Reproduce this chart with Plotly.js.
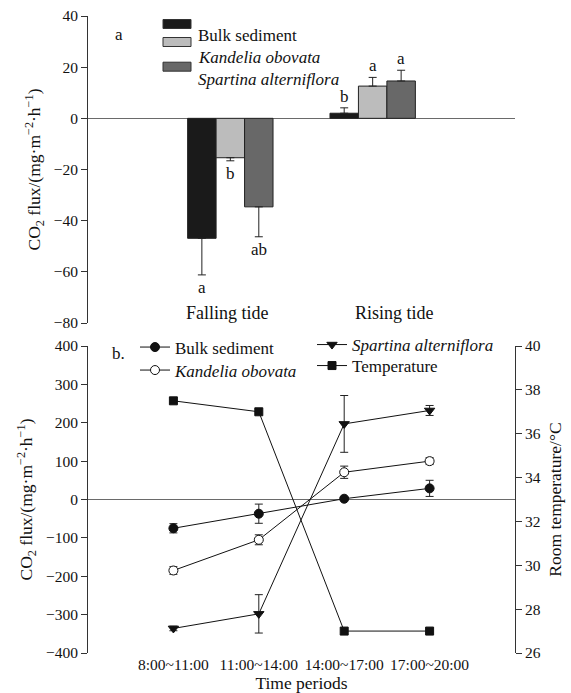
<!DOCTYPE html>
<html>
<head>
<meta charset="utf-8">
<script src="https://cdn.plot.ly/plotly-3.0.1.min.js"></script>
<style>html,body{margin:0;padding:0;background:#fff;}#chart{width:571px;height:693px;}</style>
</head>
<body>
<div id="chart"></div>
<script>
// ---- Panel a data ----
var tideCats = ["Falling tide", "Rising tide"];
var bulkFlux = [-46.9, 2.0];
var bulkErr = [14.3, 2.1];
var kandFlux = [-15.4, 12.6];
var kandErr = [1.2, 3.4];
var spartFlux = [-34.6, 14.6];
var spartErr = [11.7, 4.2];
var bulkLetters = ["a", "b"];
var kandLetters = ["b", "a"];
var spartLetters = ["ab", "a"];
var seriesNames = ["Bulk sediment", "<i>Kandelia obovata</i>", "<i>Spartina alterniflora</i>"];
var barColors = ["#1a1a1a", "#bcbcbc", "#686868"];

// ---- Panel b data ----
var periods = ["8:00~11:00", "11:00~14:00", "14:00~17:00", "17:00~20:00"];
var bulkT = [-75, -37, 2, 29];
var bulkTErr = [12, 25, 3, 21];
var kandT = [-185, -105, 71, 100];
var kandTErr = [10, 13, 16, 9];
var spartT = [-336, -298, 197, 232];
var spartTErr = [6, 50, 74, 13];
var tempT = [37.5, 37.0, 27.0, 27.0];

var FONT = "Liberation Serif";
var W = 571, H = 693, ML = 88, MR = 56, MT = 16, MB = 40;
var PW = W - ML - MR, PH = H - MT - MB;
function px(x) { return (x - ML) / PW; }
function py(y) { return (H - MB - y) / PH; }

var domTop = [py(323), 1];
var domBot = [0, py(346)];
var topRange = [-80, 40];
var botRange = [-400, 400];
var zeroTop = domTop[0] + (0 - topRange[0]) / (topRange[1] - topRange[0]) * (domTop[1] - domTop[0]);
var zeroBot = domBot[0] + (0 - botRange[0]) / (botRange[1] - botRange[0]) * (domBot[1] - domBot[0]);

var errStyle = {type: "data", visible: true, color: "#222", thickness: 1, width: 4};

function barTrace(vals, errs, i) {
  // error bars drawn outward only (as in the reference)
  var up = vals.map(function (v, k) { return v >= 0 ? errs[k] : 0; });
  var down = vals.map(function (v, k) { return v < 0 ? errs[k] : 0; });
  return {
    type: "bar", x: tideCats, y: vals, name: seriesNames[i], showlegend: false,
    xaxis: "x", yaxis: "y",
    marker: {color: barColors[i], line: {color: "#222", width: 1}},
    error_y: Object.assign({symmetric: false, array: up, arrayminus: down}, errStyle)
  };
}

var traces = [
  barTrace(bulkFlux, bulkErr, 0),
  barTrace(kandFlux, kandErr, 1),
  barTrace(spartFlux, spartErr, 2)
];

function lineTrace(vals, errs, name, symbol, fill, legend) {
  var t = {
    type: "scatter", mode: "lines+markers", x: periods, y: vals, name: name,
    xaxis: "x2", yaxis: "y2", legend: legend,
    line: {color: "#111", width: 1},
    marker: {symbol: symbol, size: 9, color: fill, line: {color: "#111", width: 1}}
  };
  if (errs) t.error_y = Object.assign({array: errs}, errStyle);
  return t;
}
traces.push(lineTrace(bulkT, bulkTErr, "Bulk sediment", "circle", "#111", "legend"));
traces.push(lineTrace(kandT, kandTErr, "<i>Kandelia obovata</i>", "circle", "#fff", "legend2"));
traces.push(lineTrace(spartT, spartTErr, "<i>Spartina alterniflora</i>", "triangle-down", "#111", "legend3"));
var tt = lineTrace(tempT, null, "Temperature", "square", "#111", "legend4");
tt.yaxis = "y3"; tt.marker.size = 8;
traces.push(tt);

// letters over / under bars
var annotations = [];
var letterSets = [bulkLetters, kandLetters, spartLetters];
var valSets = [bulkFlux, kandFlux, spartFlux];
var errSets = [bulkErr, kandErr, spartErr];
var offsets = [-0.2, 0, 0.2];
for (var s = 0; s < 3; s++) {
  for (var c = 0; c < tideCats.length; c++) {
    var v = valSets[s][c], e = errSets[s][c];
    var neg = v < 0;
    annotations.push({
      xref: "x", yref: "y", x: c + offsets[s], y: neg ? v - e : v + e,
      text: letterSets[s][c], showarrow: false,
      yanchor: neg ? "top" : "bottom", yshift: neg ? -1 : 0,
      font: {family: FONT, size: 17, color: "#111"}
    });
  }
}
// category labels for panel a
var catLabelX = [-0.02, 1.15];
for (var c = 0; c < tideCats.length; c++) {
  annotations.push({xref: "x", yref: "y", x: catLabelX[c], y: -76, text: tideCats[c],
    showarrow: false, font: {family: FONT, size: 18, color: "#111"}});
}
// panel letters
annotations.push({xref: "paper", yref: "paper", x: px(113), y: py(23), text: "a", showarrow: false,
  font: {family: FONT, size: 17, color: "#111"}});
annotations.push({xref: "paper", yref: "paper", x: px(110), y: py(354), xanchor: "left", text: "b.", showarrow: false,
  font: {family: FONT, size: 17, color: "#111"}});

// manual legend for panel a (wide swatches)
var shapes = [];
var legRectY = [24, 42, 66.7];
var legTextY = [24, 46, 68];
for (var i = 0; i < 3; i++) {
  shapes.push({type: "rect", xref: "paper", yref: "paper",
    x0: px(163), x1: px(191), y0: py(legRectY[i] + 4.5), y1: py(legRectY[i] - 4.5),
    fillcolor: barColors[i], line: {color: "#333", width: 1}});
  annotations.push({xref: "paper", yref: "paper", x: px(196), y: py(legTextY[i]), xanchor: "left",
    text: seriesNames[i], showarrow: false, font: {family: FONT, size: 17, color: "#111"}});
}

var axisFont = {family: FONT, size: 15.5, color: "#111"};
var titleFont = {family: FONT, size: 17.5, color: "#111"};
function leg(xp, yp) {
  return {x: px(xp), y: py(yp), xanchor: "left", yanchor: "top", bgcolor: "rgba(0,0,0,0)",
    font: {family: FONT, size: 17, color: "#111"}, tracegroupgap: 0, itemwidth: 30};
}
var layout = {
  width: W, height: H,
  margin: {l: ML, r: MR, t: MT, b: MB},
  paper_bgcolor: "#fff", plot_bgcolor: "rgba(0,0,0,0)",
  font: {family: FONT, size: 16, color: "#111"},
  barmode: "group", bargap: 0.4, bargroupgap: 0,
  xaxis: {domain: [0, 1], anchor: "y", type: "category", range: [-1, 2],
    showline: false, ticks: "", showticklabels: false, showgrid: false, zeroline: false},
  xaxis3: {overlaying: "x", anchor: "free", position: zeroTop, type: "linear", range: [-1, 2],
    tickvals: [0, 1], ticks: "inside", ticklen: 4, tickcolor: "#444", showticklabels: false,
    showline: false, showgrid: false, zeroline: false},
  yaxis: {domain: domTop, anchor: "x", range: topRange, dtick: 20, tick0: 0,
    showline: true, linecolor: "#333", linewidth: 1, ticks: "outside", ticklen: 6, tickcolor: "#333",
    showgrid: false, zeroline: true, zerolinecolor: "#6a6a6a", zerolinewidth: 1.5,
    tickfont: axisFont,
    title: {text: "CO<sub>2</sub> flux/(mg·m<sup>−2</sup>·h<sup>−1</sup>)", font: titleFont, standoff: 8}},
  xaxis2: {domain: [0, 1], anchor: "y2", type: "category", range: [-1, 4],
    showline: false, ticks: "", showgrid: false, zeroline: false, tickfont: axisFont,
    title: {text: "Time periods", font: titleFont, standoff: 2}},
  xaxis4: {overlaying: "x2", anchor: "free", position: zeroBot, type: "linear", range: [-1, 4],
    tickvals: [0, 1, 2, 3], ticks: "inside", ticklen: 6, tickcolor: "#444", showticklabels: false,
    showline: false, showgrid: false, zeroline: false},
  yaxis2: {domain: domBot, anchor: "x2", range: botRange, dtick: 100, tick0: 0,
    showline: true, linecolor: "#333", linewidth: 1, ticks: "outside", ticklen: 6, tickcolor: "#333",
    showgrid: false, zeroline: true, zerolinecolor: "#6a6a6a", zerolinewidth: 1.5,
    tickfont: axisFont,
    title: {text: "CO<sub>2</sub> flux/(mg·m<sup>−2</sup>·h<sup>−1</sup>)", font: titleFont, standoff: 8}},
  yaxis3: {overlaying: "y2", side: "right", anchor: "x2", range: [26, 40], dtick: 2, tick0: 26,
    showline: true, linecolor: "#333", linewidth: 1, ticks: "outside", ticklen: 6, tickcolor: "#333",
    showgrid: false, zeroline: false, tickfont: axisFont,
    title: {text: "Room temperature/°C", font: titleFont, standoff: 8}},
  legend: leg(135, 329.5),
  legend2: leg(135, 352.5),
  legend3: leg(312, 327),
  legend4: leg(312, 348),
  showlegend: true,
  annotations: annotations,
  shapes: shapes
};

Plotly.newPlot("chart", traces, layout, {displayModeBar: false, staticPlot: true});
</script>
</body>
</html>
